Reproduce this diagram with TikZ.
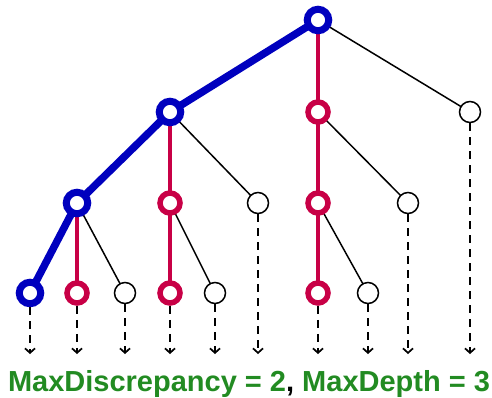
\documentclass[tikz,border=0pt]{standalone}
\usepackage{fontspec}
\setmainfont{Liberation Sans}
\usepackage{xcolor}
\usetikzlibrary{arrows.meta}

\definecolor{pathblue}{RGB}{0,0,190}
\definecolor{pathred}{RGB}{200,0,70}
\definecolor{capgreen}{RGB}{34,139,34}

\tikzset{
  bluenode/.style={circle,draw=pathblue,line width=7pt,fill=white,minimum size=21.5pt,inner sep=0pt},
  rednode/.style={circle,draw=pathred,line width=5.5pt,fill=white,minimum size=20pt,inner sep=0pt},
  plainnode/.style={circle,draw=black,line width=1.5pt,fill=white,minimum size=21pt,inner sep=0pt},
  blueedge/.style={draw=pathblue,line width=7.5pt},
  rededge/.style={draw=pathred,line width=4pt},
  plainedge/.style={draw=black,line width=1.5pt},
  moreedge/.style={draw=black,line width=1.7pt,dashed,dash pattern=on 8pt off 6pt,-{Straight Barb[length=4.5pt,width=10pt]}}
}

\begin{document}
\begin{tikzpicture}[x=1pt,y=-1pt]
\useasboundingbox (0,0) rectangle (492,397);

% level 0 and 1
\coordinate (Root) at (318,20);
\coordinate (NodeL) at (170,112);
\coordinate (NodeM) at (318,112);
\coordinate (NodeR) at (470,112);

% level 2
\coordinate (NodeLL) at (77,203);
\coordinate (NodeLM) at (170,203);
\coordinate (NodeLR) at (258,203);
\coordinate (NodeML) at (318,203);
\coordinate (NodeMR) at (408,203);

% level 3
\coordinate (NodeLLa) at (30,293);
\coordinate (NodeLLb) at (77,293);
\coordinate (NodeLLc) at (125,293);
\coordinate (NodeLMa) at (170,293);
\coordinate (NodeLMb) at (215,293);
\coordinate (NodeMLa) at (318,293);
\coordinate (NodeMLb) at (368,293);

% edges
\draw[plainedge] (Root) -- (NodeR);
\draw[plainedge] (NodeL) -- (NodeLR);
\draw[plainedge] (NodeM) -- (NodeMR);
\draw[plainedge] (NodeLL) -- (NodeLLc);
\draw[plainedge] (NodeLM) -- (NodeLMb);
\draw[plainedge] (NodeML) -- (NodeMLb);

\draw[rededge] (Root) -- (NodeM) -- (NodeML) -- (NodeMLa);
\draw[rededge] (NodeL) -- (NodeLM) -- (NodeLMa);
\draw[rededge] (NodeLL) -- (NodeLLb);

\draw[blueedge,line cap=round] (Root) -- (NodeL) -- (NodeLL) -- (NodeLLa);

% nodes
\node[bluenode] (N0) at (Root) {};
\node[bluenode] (N1) at (NodeL) {};
\node[rednode] (N2) at (NodeM) {};
\node[plainnode] (N3) at (NodeR) {};
\node[bluenode] (N4) at (NodeLL) {};
\node[rednode] (N5) at (NodeLM) {};
\node[plainnode] (N6) at (NodeLR) {};
\node[rednode] (N7) at (NodeML) {};
\node[plainnode] (N8) at (NodeMR) {};
\node[bluenode] (N9) at (NodeLLa) {};
\node[rednode] (N10) at (NodeLLb) {};
\node[plainnode] (N11) at (NodeLLc) {};
\node[rednode] (N12) at (NodeLMa) {};
\node[plainnode] (N13) at (NodeLMb) {};
\node[rednode] (N14) at (NodeMLa) {};
\node[plainnode] (N15) at (NodeMLb) {};

% dashed continuations
\foreach \n/\x in {N3/470,N6/258,N8/408,N9/30,N10/77,N11/125,N12/170,N13/215,N14/318,N15/368}{
  \coordinate (End\n) at (\x,354);
  \draw[moreedge] (\n) -- (End\n);
}

\node[font=\bfseries\fontsize{29}{32}\selectfont,text=capgreen,anchor=base] (Caption) at (249,391)
  {MaxDiscrepancy = 2\textcolor{black}{,} MaxDepth = 3};

\end{tikzpicture}
\end{document}
